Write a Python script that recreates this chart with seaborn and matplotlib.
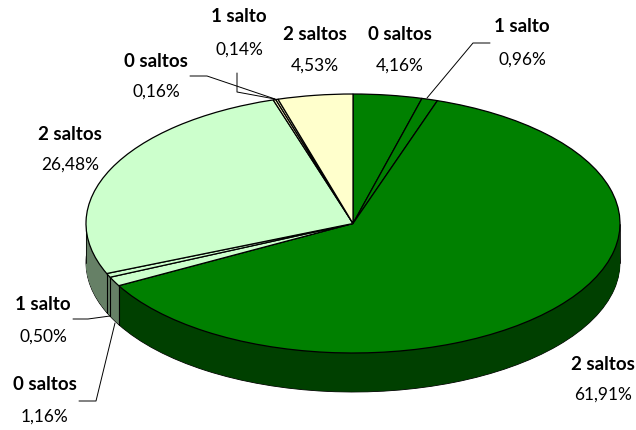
import numpy as np
import matplotlib
matplotlib.use("Agg")
import matplotlib.pyplot as plt
import seaborn as sns

labels = ["0 saltos", "1 salto", "2 saltos", "0 saltos", "1 salto", "2 saltos", "0 saltos", "1 salto", "2 saltos"]
values = [4.16, 0.96, 61.91, 1.16, 0.50, 26.48, 0.16, 0.14, 4.53]
pct_labels = ["4,16%", "0,96%", "61,91%", "1,16%", "0,50%", "26,48%", "0,16%", "0,14%", "4,53%"]
top_colors = ["#008000", "#008000", "#008000", "#CCFFCC", "#CCFFCC", "#CCFFCC", "#FFFFCC", "#FFFFCC", "#FFFFCC"]
label_pos = [(400, 35, 66), (522, 27, 60), (603, 364, 395), (45, 385, 417), (43, 305, 337),
             (70, 134, 165), (156, 61, 92), (239, 17, 50), (315, 34, 66)]
leaders = [[(490, 43), (473, 43), (427, 98)],
           [(79, 401), (96, 401), (115, 323)],
           [(73, 319), (88, 319), (110, 316)],
           [(190, 76), (207, 76), (275, 99)],
           [(237, 73), (237, 92), (275, 99)]]

W, H = 636, 430
CX, CY, A, B, D = 353, 223.5, 267, 129.5, 39
k = A / B

sns.set_theme(style="white")
plt.rcParams["font.family"] = ["Lato", "DejaVu Sans"]
palette = sns.color_palette(top_colors)
side_palette = [tuple(c / 2 for c in col) for col in palette]

fig = plt.figure(figsize=(W / 100, H / 100), dpi=100)
ax = fig.add_axes([0, 0, 1, 1])


def ypx(p):
    return (H - p) * k


# extruded side
ax.pie(values, colors=side_palette, startangle=90, counterclock=False, radius=A,
       center=(CX, ypx(CY + D)), wedgeprops=dict(edgecolor="black", linewidth=0.6))
for off in np.arange(D - 0.5, 0, -0.5):
    ax.pie(values, colors=side_palette, startangle=90, counterclock=False, radius=A,
           center=(CX, ypx(CY + off)), wedgeprops=dict(edgecolor="none", linewidth=0))

# vertical seams on the visible side
cum = np.cumsum(values) / np.sum(values) * 2 * np.pi
for t in cum:
    xs, ys = CX + A * np.sin(t), CY - B * np.cos(t)
    if ys > CY:
        ax.plot([xs, xs], [ypx(ys), ypx(ys + D)], color="black", lw=0.8, zorder=3)
for xs in (CX - A, CX + A):
    ax.plot([xs, xs], [ypx(CY), ypx(CY + D)], color="black", lw=0.6, zorder=3)

# top face
wedges, _ = ax.pie(values, colors=palette, startangle=90, counterclock=False, radius=A,
                   center=(CX, ypx(CY)), wedgeprops=dict(edgecolor="black", linewidth=0.9))
for w in wedges:
    w.set_zorder(4)

for pts in leaders:
    ax.plot([p[0] for p in pts], [ypx(p[1]) for p in pts], color="black", lw=0.7, zorder=5)

for name, pct, (x, y1, y2) in zip(labels, pct_labels, label_pos):
    ax.text(x, ypx(y1), name, ha="center", va="center", fontsize=13.5, fontweight="bold", color="black")
    ax.text(x, ypx(y2), pct, ha="center", va="center", fontsize=12.5, color="black")

ax.set_aspect("auto")
ax.set_xlim(0, W)
ax.set_ylim(0, H * k)
ax.axis("off")
fig.savefig("out.png", dpi=100, facecolor="white")
